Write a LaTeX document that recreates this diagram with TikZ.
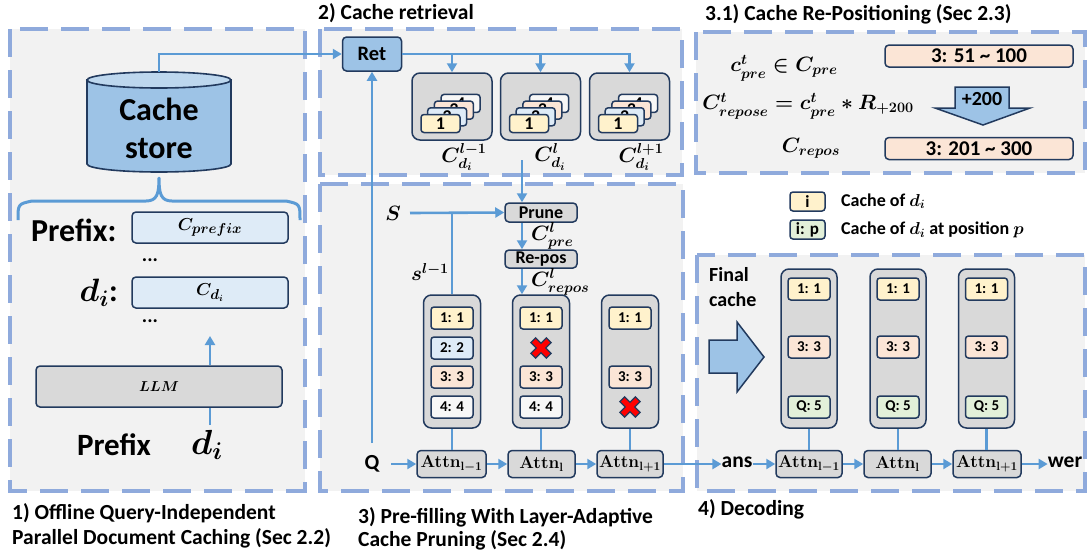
\documentclass[tikz,border=0pt]{standalone}
\usepackage{fontspec}
\setmainfont{Carlito}
\usepackage{amsmath}
\usepackage{graphicx}
\usetikzlibrary{arrows.meta}
\definecolor{lb}{HTML}{5B9BD5}
\definecolor{dashc}{HTML}{8FAADC}
\definecolor{navy}{HTML}{223A5E}
\definecolor{panelc}{HTML}{F2F2F2}
\definecolor{gbox}{HTML}{D9D9D9}
\definecolor{retfill}{HTML}{9DC3E6}
\definecolor{cyltopc}{HTML}{BDD7EE}
\definecolor{yel}{HTML}{FFF2CC}
\definecolor{blu}{HTML}{DEEBF7}
\definecolor{pea}{HTML}{FBE5D6}
\definecolor{grn}{HTML}{E2F0D9}
\definecolor{wht}{HTML}{F7F7F7}
\definecolor{xred}{HTML}{FF0000}
\newcommand{\fsz}[1]{\fontsize{#1}{#1}\selectfont}
\newcommand{\bmth}[1]{{\boldmath$#1$}}
\tikzset{
  panelbox/.style={draw=dashc, line width=3.2pt, dash pattern=on 28pt off 13pt, fill=panelc},
  card/.style={draw=navy, line width=1.5pt, rounded corners=3pt, inner sep=0pt,
    minimum width=42pt, minimum height=22pt, font=\fsz{15}\bfseries},
  scard/.style={draw=navy, line width=1.5pt, rounded corners=3pt, inner sep=0pt,
    minimum width=39pt, minimum height=18pt, font=\fsz{18}\bfseries},
  colbox/.style={draw=navy, fill=gbox, line width=1.5pt, rounded corners=8pt, inner sep=0pt},
  gbx/.style={draw=navy, fill=gbox, line width=1.5pt, rounded corners=4pt, inner sep=0pt},
  attn/.style={gbx, minimum height=27pt, font=\fsz{17.5}},
  conn/.style={draw=lb, line width=2.6pt},
  arr/.style={conn, -{Triangle[length=9pt,width=10pt]}},
  lbl/.style={inner sep=0pt, font=\fsz{21.5}\bfseries},
  title/.style={inner sep=0pt, anchor=base west, font=\fsz{21.5}\bfseries},
  xmark/.style={fill=xred, draw=navy, line width=1.2pt},
}
\newcommand{\redx}[2]{\draw[xmark, shift={(#1,#2)}, rotate=45]
  (-3.4,-11)--(3.4,-11)--(3.4,-3.4)--(11,-3.4)--(11,3.4)--(3.4,3.4)--(3.4,11)--(-3.4,11)
  --(-3.4,3.4)--(-11,3.4)--(-11,-3.4)--(-3.4,-3.4)--cycle;}
\newcommand{\cstack}[3]{%
  \node[scard, fill=wht] (#3s4) at (#1+8.6,#2-3.1) {4};
  \node[scard, fill=pea] (#3s3) at (#1+1.9,#2+3.6) {3};
  \node[scard, fill=blu] (#3s2) at (#1-4.8,#2+10.3) {2};
  \node[scard, fill=yel] (#3s1) at (#1-11.5,#2+17) {1};}
\begin{document}
\begin{tikzpicture}[x=1pt,y=-1pt]
\useasboundingbox (0,0) rectangle (1088,558);
\fill[white] (0,0) rectangle (1088,558);
% panels
\draw[panelbox] (10,29) rectangle (305,491);
\draw[panelbox] (320,29) rectangle (682,175);
\draw[panelbox] (320,184) rectangle (683,491);
\draw[panelbox] (696,32) rectangle (1085,173);
\draw[panelbox] (697,255) rectangle (1085,491);
% titles
\node[title] (t2) at (318,19) {2) Cache retrieval};
\node[title] (t31) at (705,20) {3.1) Cache Re-Positioning (Sec 2.3)};
\node[title] (t1a) at (12,519) {1) Offline Query-Independent};
\node[title] (t1b) at (12,544) {Parallel Document Caching (Sec 2.2)};
\node[title] (t3a) at (358,523) {3) Pre-filling With Layer-Adaptive};
\node[title] (t3b) at (358,546) {Cache Pruning (Sec 2.4)};
\node[title] (t4) at (698,515) {4) Decoding};
% ---------- panel 1
\filldraw[fill=retfill, draw=navy, line width=1.6pt] (87,80) -- (87,164)
  arc[start angle=180, end angle=360, x radius=72pt, y radius=8pt] -- (231,80) -- cycle;
\filldraw[fill=cyltopc, draw=navy, line width=1.6pt] (159,80) ellipse [x radius=72pt, y radius=8pt];
\node[inner sep=0pt, align=center, font=\fsz{32}\bfseries] (cs) at (159,128) {Cache\\[6pt]store};
\coordinate (cyltop) at (159,72);
\draw[draw=lb, line width=3pt, line join=round]
  (18,220) .. controls (18,204) .. (32,201) -- (146,201)
  .. controls (157,201) and (159,194) .. (159,178)
  .. controls (159,194) and (161,201) .. (172,201) -- (286,201)
  .. controls (300,204) .. (300,220);
\node[inner sep=0pt, anchor=west, font=\fsz{32}\bfseries] (pfx) at (31,230) {Prefix:};
\node[gbx, fill=blu, minimum width=156pt, minimum height=31pt, font=\fsz{19}] (cpre) at (210,227.5) {\bmth{C_{prefix}}};
\node[inner sep=0pt, font=\fsz{20}\bfseries] (dots1) at (150,260) {...};
\node[inner sep=0pt, anchor=east, font=\fsz{24}] (dil) at (118,293) {\scalebox{1.3}{\bmth{d_i}\textbf{:}}};
\node[gbx, fill=blu, minimum width=156pt, minimum height=31pt, font=\fsz{19}] (cdi) at (210,292.5) {\bmth{C_{d_i}}};
\node[inner sep=0pt, font=\fsz{20}\bfseries] (dots2) at (150,321) {...};
\node[gbx, minimum width=246pt, minimum height=41pt, font=\fsz{15}] (llm) at (159,386.5) {\bmth{LLM}};
\coordinate (llmup) at (210,336);
\draw[arr] (llm.north -| llmup) -- (llmup);
\node[inner sep=0pt, font=\fsz{31}\bfseries] (pfx2) at (114,445) {Prefix};
\node[inner sep=0pt, font=\fsz{24}] (di) at (207,445) {\scalebox{1.4}{\bmth{d_i}}};
\coordinate (dtop) at (210,425);
\draw[conn] (dtop) -- (llm.south -| dtop);
% ---------- panel 2
\node[gbx, fill=retfill, minimum width=59pt, minimum height=34pt, font=\fsz{20.5}\bfseries] (ret) at (372,54) {Ret};
\draw[arr] (cyltop) |- (ret.west);
\node[colbox, minimum width=80pt, minimum height=67pt] (cb1) at (452,106.5) {};
\node[colbox, minimum width=80pt, minimum height=67pt] (cb2) at (540.5,106.5) {};
\node[colbox, minimum width=80pt, minimum height=67pt] (cb3) at (629.5,106.5) {};
\cstack{452}{106.5}{a}
\cstack{540.5}{106.5}{b}
\cstack{629.5}{106.5}{c}
\draw[arr] (ret.east) -| (cb3.north);
\draw[arr] (ret.east -| cb1.north) -- (cb1.north);
\draw[arr] (ret.east -| cb2.north) -- (cb2.north);
\node[inner sep=0pt, font=\fsz{21}] (lc1) at (464,157) {\bmth{C_{d_i}^{l-1}}};
\node[inner sep=0pt, font=\fsz{21}] (lc2) at (550,157) {\bmth{C_{d_i}^{l}}};
\node[inner sep=0pt, font=\fsz{21}] (lc3) at (641,157) {\bmth{C_{d_i}^{l+1}}};
% ---------- panel 3 (prefill)
\node[gbx, minimum width=72pt, minimum height=19pt, font=\fsz{18}\bfseries] (prune) at (541,212.5) {Prune};
\node[gbx, minimum width=72pt, minimum height=18pt, font=\fsz{18}\bfseries] (repos) at (541,259) {Re-pos};
\coordinate (cl) at (522,160);
\node[inner sep=0pt, font=\fsz{21}] (s) at (393,213) {\bmth{S}};
\node[colbox, minimum width=57pt, minimum height=133pt] (col1) at (452,361.5) {};
\node[colbox, minimum width=57pt, minimum height=133pt] (col2) at (541,361.5) {};
\node[colbox, minimum width=57pt, minimum height=133pt] (col3) at (630,361.5) {};
\draw[arr] (cl) -- (cl |- prune.north);
\draw[arr] (cl |- prune.south) -- (cl |- repos.north);
\draw[arr] (cl |- repos.south) -- (cl |- col2.north);
\node[inner sep=0pt, anchor=west, font=\fsz{19.5}] (cpl) at (531,236) {\bmth{C^{l}_{pre}}};
\node[inner sep=0pt, anchor=west, font=\fsz{19.5}] (crl) at (531,282) {\bmth{C^{l}_{repos}}};
\coordinate (sst) at (410,213);
\draw[arr] (sst) -- (prune.west);
\draw[conn] (sst -| col1.north) -- (col1.north);
\node[inner sep=0pt, font=\fsz{20}] (sl) at (430,272) {\bmth{s^{l-1}}};
\node[card, fill=yel] (p11) at (452,318) {1: 1};
\node[card, fill=blu] (p12) at (452,348) {2: 2};
\node[card, fill=pea] (p13) at (452,377) {3: 3};
\node[card, fill=wht] (p14) at (452,407) {4: 4};
\node[card, fill=yel] (p21) at (541,318) {1: 1};
\redx{541}{348}
\node[card, fill=pea] (p23) at (541,377) {3: 3};
\node[card, fill=wht] (p24) at (541,407) {4: 4};
\node[card, fill=yel] (p31) at (630,318) {1: 1};
\node[card, fill=pea] (p33) at (630,377) {3: 3};
\redx{630}{407}
\node[attn, minimum width=69pt] (a1) at (451.5,464) {\bmth{\mathbf{Attn}_{\mathbf{l-1}}}};
\node[attn, minimum width=67pt] (a2) at (541.5,464) {\bmth{\mathbf{Attn}_{\mathbf{l}}}};
\node[attn, minimum width=66pt] (a3) at (630,464) {\bmth{\mathbf{Attn}_{\mathbf{l+1}}}};
\draw[conn] (col1.south) -- (col1.south |- a1.north);
\draw[conn] (col2.south) -- (col2.south |- a2.north);
\draw[conn] (col3.south) -- (a3.north);
\node[lbl] (q) at (372,464) {Q};
\coordinate (qtop) at (372,443);
\coordinate (qr) at (391,464);
\draw[arr] (qtop) -- (ret.south);
\draw[arr] (qr) -- (a1.west);
\draw[arr] (a1.east) -- (a2.west);
\draw[arr] (a2.east) -- (a3.west);
% ---------- panel 3.1
\node[inner sep=0pt, font=\fsz{21}] (e1) at (784,68) {\bmth{c^{t}_{pre}\in C_{pre}}};
\node[inner sep=0pt, font=\fsz{21}] (e2) at (808,106) {\bmth{C^{t}_{repose}=c^{t}_{pre}*R_{+200}}};
\node[inner sep=0pt, font=\fsz{21}] (e3) at (811,148) {\bmth{C_{repos}}};
\node[gbx, fill=pea, minimum width=188pt, minimum height=22pt, font=\fsz{21}\bfseries] (r1) at (979,56) {3: 51 \textasciitilde{} 100};
\node[gbx, fill=pea, minimum width=188pt, minimum height=22pt, font=\fsz{21}\bfseries] (r2) at (979,148.5) {3: 201 \textasciitilde{} 300};
\filldraw[fill=retfill, draw=navy, line width=1.5pt]
  (955,87)--(1009,87)--(1009,108)--(1030,108)--(983,125)--(935,108)--(955,108)--cycle;
\node[inner sep=0pt, font=\fsz{20}\bfseries] (p200) at (982,99) {+200};
% legend
\node[card, fill=yel, minimum width=35pt, minimum height=19pt, font=\fsz{17}\bfseries] (lg1) at (807.5,201.5) {i};
\node[inner sep=0pt, anchor=west, font=\fsz{18}\bfseries] (lt1) at (841,201) {Cache of \bmth{d_i}};
\node[card, fill=grn, minimum width=35pt, minimum height=19pt, font=\fsz{17}\bfseries] (lg2) at (807.5,229.5) {i: p};
\node[inner sep=0pt, anchor=west, font=\fsz{18}\bfseries] (lt2) at (841,230) {Cache of \bmth{d_i} at position \bmth{p}};
% ---------- panel 4
\node[inner sep=0pt, anchor=west, font=\fsz{20}\bfseries] (fc1) at (709,275) {Final};
\node[inner sep=0pt, anchor=west, font=\fsz{20}\bfseries] (fc2) at (709,300) {cache};
\filldraw[fill=retfill, draw=navy, line width=1.5pt]
  (709,340)--(737,340)--(737,322)--(764,357)--(737,392)--(737,373)--(709,373)--cycle;
\node[colbox, minimum width=56pt, minimum height=159pt] (dc1) at (809,348.5) {};
\node[colbox, minimum width=56pt, minimum height=159pt] (dc2) at (898,348.5) {};
\node[colbox, minimum width=56pt, minimum height=159pt] (dc3) at (986.5,348.5) {};
\foreach \cx/\nm in {809/u, 898/v, 986.5/w}{
  \node[card, fill=yel] (\nm1) at (\cx,289) {1: 1};
  \node[card, fill=pea] (\nm3) at (\cx,347) {3: 3};
  \node[card, fill=grn] (\nm5) at (\cx,407) {Q: 5};
}
\node[attn, minimum width=66pt] (d1) at (809,464) {\bmth{\mathbf{Attn}_{\mathbf{l-1}}}};
\node[attn, minimum width=67pt] (d2) at (897.5,464) {\bmth{\mathbf{Attn}_{\mathbf{l}}}};
\node[attn, minimum width=68pt] (d3) at (987,464) {\bmth{\mathbf{Attn}_{\mathbf{l+1}}}};
\draw[conn] (dc1.south) -- (d1.north);
\draw[conn] (dc2.south) -- (dc2.south |- d2.north);
\draw[conn] (dc3.south) -- (dc3.south |- d3.north);
\node[lbl] (ans) at (737,462) {ans};
\node[lbl] (wer) at (1065,462) {wer};
\draw[arr] (a3.east) -- (a3.east -| ans.west);
\draw[arr] (ans.east |- d1.west) -- (d1.west);
\draw[arr] (d1.east) -- (d2.west);
\draw[arr] (d2.east) -- (d3.west);
\draw[arr] (d3.east) -- (d3.east -| wer.west);
\end{tikzpicture}
\end{document}
